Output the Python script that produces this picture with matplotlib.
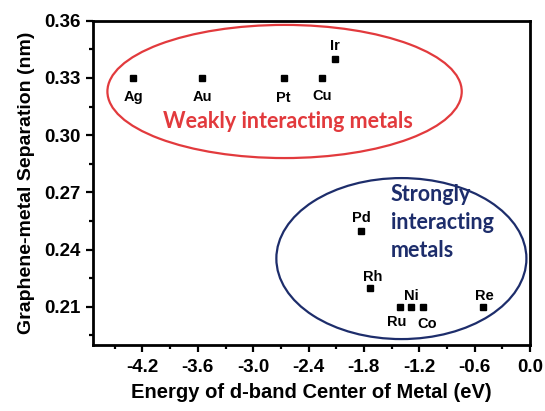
import numpy as np
import matplotlib
matplotlib.use("Agg")
from matplotlib import pyplot as plt
from matplotlib.patches import Ellipse
from matplotlib.ticker import MultipleLocator

# values
metals = ["Ag", "Au", "Pt", "Cu", "Ir", "Pd", "Rh", "Ru", "Ni", "Co", "Re"]
d_band = [-4.30, -3.55, -2.67, -2.25, -2.11, -1.83, -1.73, -1.41, -1.29, -1.16, -0.51]
separation = [0.33, 0.33, 0.33, 0.33, 0.34, 0.25, 0.22, 0.21, 0.21, 0.21, 0.21]

# where each label sits relative to its point (points)
label_offset = {"Ag": (0, -14), "Au": (0, -14), "Pt": (0, -14.5), "Cu": (0, -13),
                "Ir": (0, 9), "Pd": (0, 9), "Rh": (2, 8), "Ni": (0, 8),
                "Re": (1, 8), "Ru": (-2, -11), "Co": (3, -12.5)}

plt.rcParams['font.family'] = ['Liberation Sans', 'DejaVu Sans']
plt.rcParams['font.weight'] = 'bold'

fig = plt.figure(figsize=(5.45, 4.11), dpi=100)
ax = fig.add_axes([0.170, 0.1606, 0.8025, 0.789])

ax.plot(d_band, separation, 's', color='black', markersize=4.5, zorder=3)
for name, x, y in zip(metals, d_band, separation):
    dx, dy = label_offset[name]
    ax.annotate(name, (x, y), xytext=(dx, dy), textcoords='offset points',
                ha='center', va='center', fontsize=10.5, fontweight='bold')

red = '#e23a3d'
blue = '#1d2d6b'
ax.add_patch(Ellipse((-2.66, 0.3229), 3.84, 0.0698, fill=False, edgecolor=red, lw=1.6))
ax.add_patch(Ellipse((-1.394, 0.2353), 2.71, 0.0844, fill=False, edgecolor=blue, lw=1.6))
ax.text(-2.62, 0.304, "Weakly interacting metals", color=red, fontsize=15.5,
        fontweight='bold', family=['Lato', 'DejaVu Sans'], ha='center', va='baseline')
for line, yb in zip(["Strongly", "interacting", "metals"], [0.2657, 0.2506, 0.2360]):
    ax.text(-1.51, yb, line, color=blue, fontsize=15.5, fontweight='bold',
            family=['Lato', 'DejaVu Sans'], ha='left', va='baseline')

ax.set_xlim(-4.74, 0.0)
ax.set_ylim(0.19, 0.36)
ax.xaxis.set_minor_locator(MultipleLocator(0.3))
ax.yaxis.set_minor_locator(MultipleLocator(0.015))
ax.set_xticks(np.arange(-4.2, 0.01, 0.6))
ax.set_xticklabels(["-4.2", "-3.6", "-3.0", "-2.4", "-1.8", "-1.2", "-0.6", "0.0"])
ax.set_yticks([0.21, 0.24, 0.27, 0.30, 0.33, 0.36])
ax.set_yticklabels(["0.21", "0.24", "0.27", "0.30", "0.33", "0.36"])
ax.tick_params(which='major', direction='out', length=5, width=1.6, labelsize=13.5)
ax.tick_params(axis='x', which='major', pad=5)
ax.tick_params(axis='y', which='major', pad=4)
ax.tick_params(which='minor', direction='out', length=3, width=1.6)
for s in ax.spines.values():
    s.set_linewidth(2)

ax.set_xlabel("Energy of d-band Center of Metal (eV)", fontsize=14.5, fontweight='bold', labelpad=5)
ax.set_ylabel("Graphene-metal Separation (nm)", fontsize=14, fontweight='bold', labelpad=6)

fig.savefig("out.png", dpi=100)
